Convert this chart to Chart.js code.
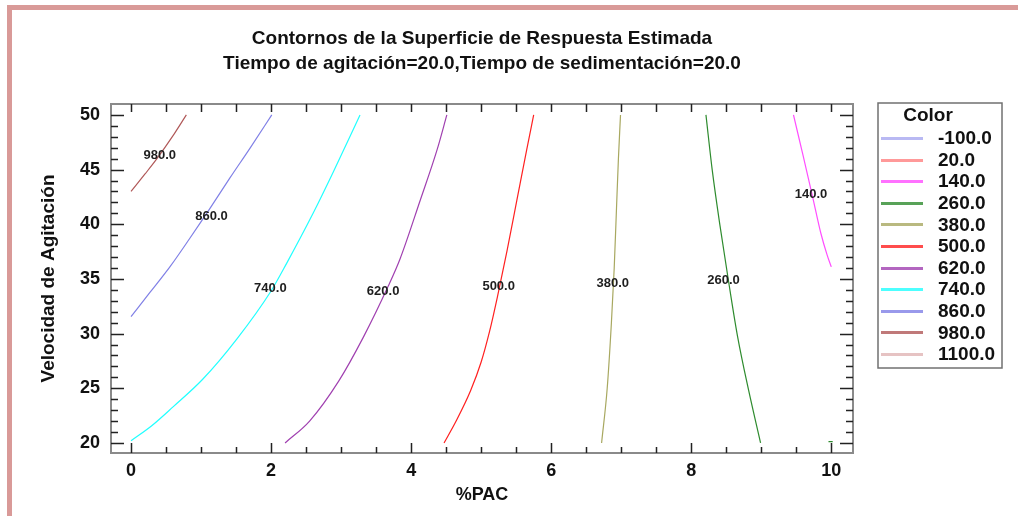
<!DOCTYPE html>
<html>
<head>
<meta charset="utf-8">
<script src="https://cdn.jsdelivr.net/npm/chart.js@4.4.1/dist/chart.umd.min.js"></script>
<style>
  html, body { margin: 0; padding: 0; background: #fff; }
  #wrap { width: 1018px; height: 516px; }
</style>
</head>
<body>
<div id="wrap"><canvas id="chart" width="1018" height="516"></canvas></div>
<script>
// contour levels shown in the legend (same order as the original)
const levels = [-100, 20, 140, 260, 380, 500, 620, 740, 860, 980, 1100];
const levelColors = ['#a8a8f0', '#ff8080', '#ff4dff', '#2e8b2e', '#a8a860', '#ff2020',
                     '#a040b0', '#20ffff', '#8080e6', '#b05858', '#e0b4b4'];

// contour lines: [%PAC, Velocidad]
const c140 = [[9.46, 50], [9.6, 46.2], [9.73, 42.6], [9.85, 39.2], [9.94, 37.2], [10.0, 36.1]];
const c260 = [[8.21, 50], [8.3, 44.95], [8.41, 39.9], [8.53, 34.9], [8.66, 29.8], [8.82, 24.8], [8.99, 20]];
const c260b = [[9.96, 20.12], [10.02, 20.12]];
const c380 = [[6.72, 20], [6.8, 25], [6.86, 31], [6.9, 36], [6.93, 41], [6.96, 46], [6.99, 50]];
const c500 = [[4.47, 20], [4.65, 22.1], [4.85, 24.8], [5.0, 27.4], [5.12, 30.2], [5.23, 33.3], [5.37, 37.6], [5.51, 42.2], [5.65, 46.8], [5.75, 50]];
const c620 = [[2.2, 20], [2.55, 22], [2.97, 25.7], [3.32, 29.7], [3.67, 34.3], [3.84, 36.8], [4.13, 42.2], [4.37, 46.8], [4.51, 50]];
const c740 = [[0, 20.2], [0.3, 21.6], [0.6, 23.3], [1.02, 25.8], [1.51, 29.5], [2.0, 33.9], [2.22, 36.4], [2.6, 41.0], [2.89, 44.8], [3.27, 50]];
const c860 = [[0, 31.56], [0.27, 33.76], [0.56, 36.15], [0.84, 38.72], [1.13, 41.47], [1.41, 44.22], [1.7, 46.97], [2.01, 50]];
const c980 = [[0, 43.0], [0.2, 44.6], [0.37, 46.0], [0.6, 48.1], [0.79, 50]];

// label text and where it sits on each contour
const contourLabels = ['980.0', '860.0', '740.0', '620.0', '500.0', '380.0', '260.0', '140.0'];
const labelPoints = [[0.41, 46.3], [1.15, 40.7], [1.99, 34.1], [3.6, 33.9], [5.25, 34.3], [6.88, 34.6], [8.46, 34.9], [9.71, 42.7]];

const xTicks = [0, 2, 4, 6, 8, 10];
const yTicks = [20, 25, 30, 35, 40, 45, 50];

const linesByLevel = {
    140: [c140], 260: [c260, c260b], 380: [c380], 500: [c500],
    620: [c620], 740: [c740], 860: [c860], 980: [c980]
};

function toPoints(parts) {
    const pts = [];
    parts.forEach((p, i) => {
        if (i > 0) pts.push({ x: p[0][0], y: null });
        p.forEach(q => pts.push({ x: q[0], y: q[1] }));
    });
    return pts;
}

const datasets = levels.map((lv, i) => ({
    label: lv.toFixed(1),
    data: toPoints(linesByLevel[lv] || []),
    borderColor: levelColors[i],
    backgroundColor: levelColors[i],
    borderWidth: 1.2,
    pointRadius: 0,
    showLine: true,
    cubicInterpolationMode: 'monotone',
    spanGaps: false
}));

const FONT = '"Liberation Sans", Arial, sans-serif';

// frame, plot border, inward ticks on all four sides
const framePlugin = {
    id: 'frame',
    beforeDraw(chart) {
        const ctx = chart.ctx;
        ctx.save();
        ctx.fillStyle = '#fff';
        ctx.fillRect(0, 0, chart.width, chart.height);
        ctx.fillStyle = '#d99a98';
        ctx.fillRect(7, 5, chart.width - 7, 5);
        ctx.fillRect(7, 5, 5, chart.height - 5);
        ctx.restore();
    },
    afterDraw(chart) {
        const { ctx, chartArea: a } = chart;
        const xs = chart.scales.x, ys = chart.scales.y;
        ctx.save();
        ctx.strokeStyle = '#8a8a8a';
        ctx.lineWidth = 2;
        ctx.strokeRect(a.left, a.top, a.right - a.left, a.bottom - a.top);
        ctx.strokeStyle = '#222';
        ctx.lineWidth = 1.5;
        ctx.beginPath();
        for (let v = 0; v <= 10.001; v += 0.5) {
            const px = Math.round(xs.getPixelForValue(v)) + 0.5;
            const major = Math.abs(v % 2) < 0.01;
            const len = major ? 10 : 6;
            ctx.moveTo(px, a.bottom); ctx.lineTo(px, a.bottom - len);
            ctx.moveTo(px, a.top); ctx.lineTo(px, a.top + 8);
        }
        for (let v = 20; v <= 50; v += 1) {
            const py = Math.round(ys.getPixelForValue(v)) + 0.5;
            const major = v % 5 === 0;
            const len = major ? 13 : 7;
            ctx.moveTo(a.left, py); ctx.lineTo(a.left + len, py);
            ctx.moveTo(a.right, py); ctx.lineTo(a.right - len, py);
        }
        ctx.stroke();

        // contour labels
        ctx.fillStyle = '#1e1e1e';
        ctx.font = 'bold 13px ' + FONT;
        ctx.textAlign = 'center';
        ctx.textBaseline = 'middle';
        contourLabels.forEach((t, i) => {
            ctx.fillText(t, xs.getPixelForValue(labelPoints[i][0]), ys.getPixelForValue(labelPoints[i][1]));
        });

        // legend box
        const L = 878, T = 103, R = 1002, B = 368;
        ctx.strokeStyle = '#707070';
        ctx.lineWidth = 1.5;
        ctx.strokeRect(L, T, R - L, B - T);
        ctx.fillStyle = '#111';
        ctx.font = 'bold 19px ' + FONT;
        ctx.textAlign = 'center';
        ctx.fillText('Color', 928, 116);
        ctx.textAlign = 'left';
        chart.data.datasets.forEach((ds, i) => {
            const y = 138 + i * 21.6;
            ctx.globalAlpha = 0.8;
            ctx.fillStyle = ds.borderColor;
            ctx.fillRect(881, Math.round(y) - 1, 42, 3);
            ctx.globalAlpha = 1;
            ctx.fillStyle = '#111';
            ctx.fillText(ds.label, 938, y + 1);
        });
        ctx.restore();
    }
};

new Chart(document.getElementById('chart'), {
    type: 'scatter',
    data: { datasets: datasets },
    options: {
        responsive: false,
        animation: false,
        layout: { padding: { left: 0, right: 165, top: 0, bottom: 0 } },
        plugins: {
            legend: { display: false },
            tooltip: { enabled: false },
            title: {
                display: true,
                fullSize: false,
                text: ['Contornos de la Superficie de Respuesta Estimada',
                       'Tiempo de agitación=20.0,Tiempo de sedimentación=20.0'],
                color: '#111',
                font: { family: FONT, size: 19, weight: 'bold', lineHeight: 25 / 19 },
                padding: { top: 26, bottom: 28 }
            }
        },
        scales: {
            x: {
                type: 'linear',
                min: -0.286,
                max: 10.31,
                afterBuildTicks: s => { s.ticks = xTicks.map(v => ({ value: v })); },
                afterFit: s => { s.height = 63; },
                grid: { display: false, drawTicks: false },
                border: { display: false },
                ticks: { color: '#111', padding: 7, font: { family: FONT, size: 18, weight: 'bold' } },
                title: {
                    display: true, text: '%PAC', color: '#111',
                    font: { family: FONT, size: 18, weight: 'bold' },
                    padding: { top: 0, bottom: 10 }
                }
            },
            y: {
                type: 'linear',
                min: 19.08,
                max: 51.0,
                afterBuildTicks: s => { s.ticks = yTicks.map(v => ({ value: v })); },
                afterFit: s => { s.width = 111; },
                grid: { display: false, drawTicks: false },
                border: { display: false },
                ticks: { color: '#111', padding: 11, font: { family: FONT, size: 18, weight: 'bold' } },
                title: {
                    display: true, text: 'Velocidad de Agitación', color: '#111',
                    font: { family: FONT, size: 19, weight: 'bold' },
                    padding: { top: 37, bottom: 0 }
                }
            }
        }
    },
    plugins: [framePlugin]
});
</script>
</body>
</html>
